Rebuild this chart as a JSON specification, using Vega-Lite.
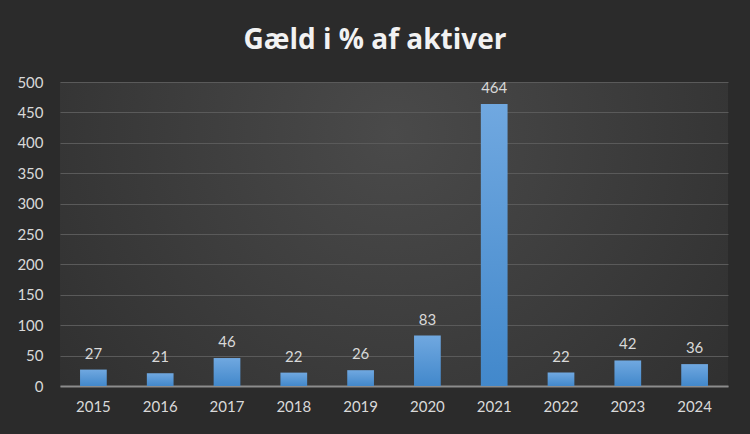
{
  "$schema": "https://vega.github.io/schema/vega-lite/v6.json",
  "width": 668,
  "height": 304,
  "autosize": {"type": "none"},
  "padding": {"left": 60, "top": 82, "right": 22, "bottom": 48},
  "background": "#2b2b2b",
  "title": {
    "text": "Gæld i % af aktiver",
    "font": "Open Sans",
    "fontSize": 28,
    "fontWeight": "bold",
    "color": "#f2f2f2",
    "anchor": "middle",
    "dx": -19,
    "dy": 36,
    "offset": 34,
    "baseline": "alphabetic"
  },
  "config": {
    "view": {
      "stroke": null,
      "fill": {
        "gradient": "radial",
        "x1": 0.5, "y1": 0.35, "r1": 0,
        "x2": 0.5, "y2": 0.35, "r2": 0.75,
        "stops": [
          {"offset": 0, "color": "#4a4a4a"},
          {"offset": 1, "color": "#2b2b2b"}
        ]
      }
    },
    "axis": {
      "labelFont": "Lato",
      "labelFontSize": 15,
      "labelColor": "#d9d9d9",
      "titleColor": "#d9d9d9"
    }
  },
  "data": {
    "values": [
      {"year": "2015", "value": 27},
      {"year": "2016", "value": 21},
      {"year": "2017", "value": 46},
      {"year": "2018", "value": 22},
      {"year": "2019", "value": 26},
      {"year": "2020", "value": 83},
      {"year": "2021", "value": 464},
      {"year": "2022", "value": 22},
      {"year": "2023", "value": 42},
      {"year": "2024", "value": 36}
    ]
  },
  "encoding": {
    "x": {
      "field": "year",
      "type": "ordinal",
      "title": null,
      "scale": {"paddingInner": 0.6, "paddingOuter": 0.3},
      "axis": {
        "labelAngle": 0,
        "ticks": false,
        "domainColor": "#8c8c8c",
        "domainWidth": 2,
        "labelPadding": 13,
        "grid": false
      }
    },
    "y": {
      "field": "value",
      "type": "quantitative",
      "title": null,
      "scale": {"domain": [0, 500]},
      "axis": {
        "values": [0, 50, 100, 150, 200, 250, 300, 350, 400, 450, 500],
        "ticks": false,
        "domain": false,
        "gridColor": "#5a5a5a",
        "gridWidth": 1,
        "labelPadding": 17
      }
    }
  },
  "layer": [
    {
      "mark": {
        "type": "bar",
        "color": {
          "gradient": "linear",
          "x1": 0, "y1": 0, "x2": 0, "y2": 1,
          "stops": [
            {"offset": 0, "color": "#70a8e0"},
            {"offset": 1, "color": "#4288cb"}
          ]
        }
      }
    },
    {
      "mark": {
        "type": "text",
        "baseline": "bottom",
        "dy": -8,
        "font": "Lato",
        "fontSize": 15,
        "color": "#d9d9d9"
      },
      "encoding": {"text": {"field": "value", "type": "quantitative"}}
    }
  ]
}
